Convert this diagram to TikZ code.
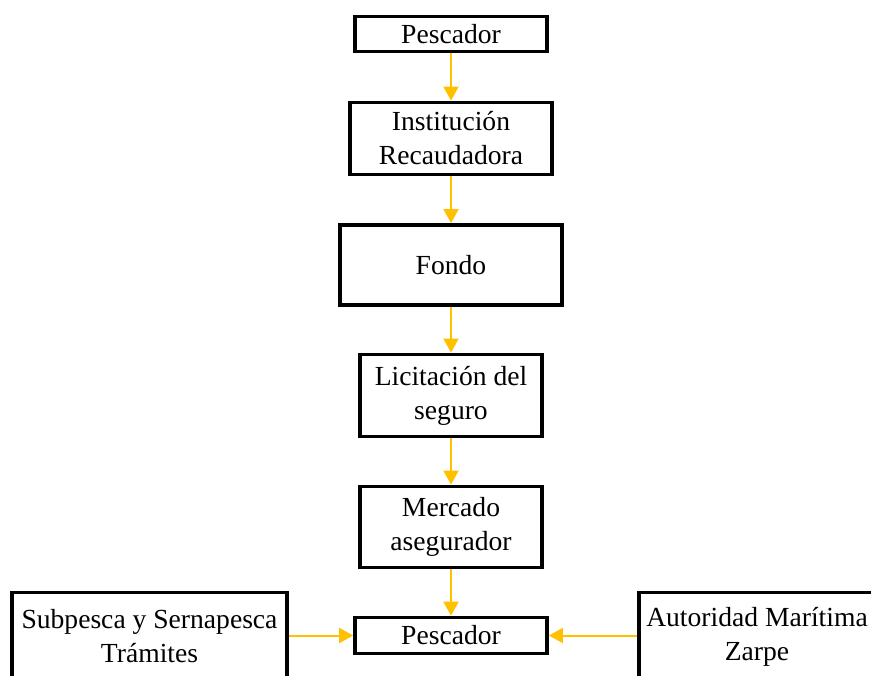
\documentclass[tikz,border=0pt]{standalone}
\usepackage{fontspec}
\setmainfont{Liberation Serif}
\usetikzlibrary{arrows.meta}
\definecolor{gold}{HTML}{FFC000}
\tikzset{
	box/.style={draw=black, line width=1.9pt, align=center, inner sep=0pt,
		font=\fontsize{13.8}{17}\selectfont},
	flow/.style={draw=gold, line width=1pt, -{Triangle[width=7.5pt,length=7pt]}, fill=gold}
}

\begin{document}
\begin{tikzpicture}[x=0.5pt, y=-0.5pt]
		%%%%% START %%%%%
		\useasboundingbox (0, 0) rectangle (871, 675);
		\clip (0, 0) rectangle (871, 675);
		
		\node[box, minimum width=96pt, minimum height=17.5pt] (pesc) at (451, 34) {Pescador};
		\node[box, minimum width=101pt, minimum height=36pt] (inst) at (451, 138.5) {Institución\\Recaudadora};
		\node[box, minimum width=111pt, minimum height=40pt] (fondo) at (451, 265) {Fondo};
		\node[box, minimum width=91pt, minimum height=41pt] (licit) at (451, 395.5) {Licitación del\\seguro};
		\node[box, minimum width=91pt, minimum height=40.5pt] (merc) at (451, 527) {Mercado\\asegurador};
		\node[box, minimum width=96pt, minimum height=18pt] (pescb) at (451, 635.5) {Pescador};
		
		\node[box, minimum width=137.5pt, minimum height=44pt] (subp) at (149.5, 636.5) {Subpesca y Sernapesca\\Trámites};
		\node[box, minimum width=118pt, minimum height=44pt] (autor) at (757, 636.5) {Autoridad Marítima\\Zarpe};
		
		\draw[flow] (pesc) -- (inst);
		\draw[flow] (inst) -- (fondo);
		\draw[flow] (fondo) -- (licit);
		\draw[flow] (licit) -- (merc);
		\draw[flow] (merc) -- (pescb);
		\draw[flow] (subp.east |- pescb) -- (pescb);
		\draw[flow] (autor.west |- pescb) -- (pescb);
		
		%%%%% END %%%%%
	\end{tikzpicture}
\end{document}
